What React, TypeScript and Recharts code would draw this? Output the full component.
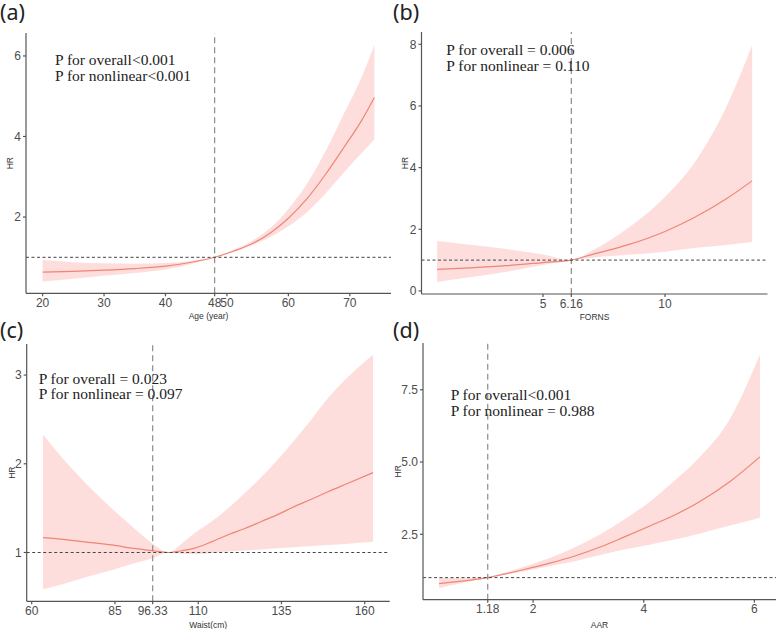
import React from "react";
import { ComposedChart, Area, Line, XAxis, YAxis, ReferenceLine } from "recharts";

// (a) Age
const ageX = [20, 25, 30, 35, 40, 44, 48, 51, 54, 57, 60, 63, 66, 69, 72, 74];
const ageHR = [0.63, 0.65, 0.68, 0.72, 0.78, 0.87, 1.0, 1.15, 1.33, 1.6, 1.97, 2.45, 3.05, 3.72, 4.42, 4.97];
const ageLow = [0.4, 0.47, 0.54, 0.61, 0.7, 0.82, 1.0, 1.13, 1.3, 1.5, 1.77, 2.12, 2.58, 3.1, 3.6, 3.93];
const ageHigh = [0.93, 0.88, 0.85, 0.84, 0.86, 0.91, 1.0, 1.18, 1.4, 1.72, 2.2, 2.82, 3.62, 4.55, 5.5, 6.27];

// (b) FORNS
const fornsX = [0.66, 2, 3.5, 5, 6.16, 7, 8.5, 10, 11.2, 12.5, 13.57];
const fornsHR = [0.7, 0.75, 0.82, 0.92, 1.0, 1.18, 1.5, 1.93, 2.38, 2.98, 3.57];
const fornsLow = [0.29, 0.44, 0.62, 0.84, 1.0, 1.08, 1.17, 1.27, 1.39, 1.49, 1.59];
const fornsHigh = [1.62, 1.5, 1.36, 1.18, 1.0, 1.3, 2.05, 3.05, 4.15, 5.95, 7.97];

// (c) Waist
const waistX = [63.4, 70, 77, 84, 90, 96.33, 101, 105, 109, 114, 119, 124, 129, 134, 139, 144, 149, 155, 162.5];
const waistHR = [1.167, 1.145, 1.115, 1.085, 1.05, 1.02, 1.0, 1.02, 1.05, 1.12, 1.2, 1.27, 1.35, 1.43, 1.52, 1.6, 1.685, 1.78, 1.9];
const waistLow = [0.585, 0.65, 0.73, 0.8, 0.87, 0.935, 1.0, 0.985, 0.98, 0.995, 1.01, 1.022, 1.035, 1.048, 1.06, 1.072, 1.085, 1.1, 1.12];
const waistHigh = [2.33, 2.03, 1.75, 1.5, 1.3, 1.1, 1.0, 1.1, 1.22, 1.35, 1.5, 1.67, 1.85, 2.05, 2.27, 2.5, 2.74, 2.98, 3.23];

// (d) AAR
const aarX = [0.3, 0.75, 1.18, 1.5, 1.84, 2.3, 2.74, 3.2, 3.64, 4.1, 4.54, 5.0, 5.56, 6.1];
const aarHR = [0.79, 0.89, 1.0, 1.13, 1.28, 1.5, 1.74, 2.05, 2.4, 2.78, 3.15, 3.62, 4.33, 5.18];
const aarLow = [0.64, 0.82, 1.0, 1.12, 1.22, 1.4, 1.56, 1.77, 1.97, 2.14, 2.31, 2.52, 2.8, 3.07];
const aarHigh = [0.99, 0.99, 1.0, 1.18, 1.38, 1.68, 2.03, 2.48, 3.0, 3.62, 4.33, 5.15, 6.5, 8.72];

const ageTicks = [20, 30, 40, 48, 50, 60, 70];
const fornsTicks = [5, 6.16, 10];
const waistTicks = [60, 85, 96.33, 110, 135, 160];
const aarTicks = [1.18, 2, 4, 6];

const buildRows = (xs: number[], hr: number[], lo: number[], hi: number[]) =>
  xs.map((x, i) => ({ x, hr: hr[i], band: [lo[i], hi[i]] }));

const AXIS = "#555555";
const TICK = { fill: "#4d4d4d", fontSize: 12, fontFamily: "Liberation Sans, Arial, sans-serif" };
const TITLE = { fill: "#333", fontSize: 8.5, fontFamily: "Liberation Sans, Arial, sans-serif" };

type Rect = { left: number; top: number; right: number; bottom: number };

const SplinePanel = (p: {
  rows: any[];
  plot: Rect;
  yw: number;
  xDomain: number[];
  yDomain: number[];
  xTicks: number[];
  yTicks: number[];
  refX: number;
  xTitle: string;
  xTitleOffset: number;
  hrOffset: number;
  yFmt?: (v: number) => string;
}) => {
  const mt = 4;
  const mr = 2;
  const xh = 30;
  const width = p.plot.right - p.plot.left + p.yw + mr;
  const height = p.plot.bottom - p.plot.top + mt + xh;
  return (
    <div style={{ position: "absolute", left: p.plot.left - p.yw, top: p.plot.top - mt }}>
      <ComposedChart
        width={width}
        height={height}
        data={p.rows}
        margin={{ top: mt, right: mr, bottom: 0, left: 0 }}
      >
        <XAxis
          type="number"
          dataKey="x"
          domain={p.xDomain}
          ticks={p.xTicks}
          interval={0}
          allowDataOverflow
          height={xh}
          stroke={AXIS}
          strokeWidth={1.2}
          tickSize={3}
          tick={TICK}
          label={{ value: p.xTitle, position: "insideBottom", offset: p.xTitleOffset, style: TITLE }}
        />
        <YAxis
          type="number"
          domain={p.yDomain}
          ticks={p.yTicks}
          interval={0}
          allowDataOverflow
          width={p.yw}
          stroke={AXIS}
          strokeWidth={1.2}
          tickSize={3}
          tick={TICK}
          tickFormatter={p.yFmt}
          label={{
            value: "HR",
            angle: -90,
            position: "insideLeft",
            offset: p.hrOffset,
            style: { ...TITLE, textAnchor: "middle" },
          }}
        />
        <Area
          type="monotone"
          dataKey="band"
          stroke="none"
          fill="#f8766d"
          fillOpacity={0.24}
          isAnimationActive={false}
        />
        <Line
          type="monotone"
          dataKey="hr"
          stroke="#ef8576"
          strokeWidth={1.2}
          dot={false}
          isAnimationActive={false}
        />
        <ReferenceLine x={p.refX} stroke="#8c8c8c" strokeWidth={1.2} strokeDasharray="6 4" />
        <ReferenceLine y={1} stroke="#444" strokeWidth={1} strokeDasharray="3 2.5" />
      </ComposedChart>
    </div>
  );
};

const Note = ({ x, y, lines }: { x: number; y: number; lines: string[] }) => (
  <div
    style={{
      position: "absolute",
      left: x,
      top: y,
      fontFamily: "Liberation Serif, Times New Roman, serif",
      fontSize: 15.5,
      lineHeight: "15.5px",
      color: "#222",
      whiteSpace: "pre",
    }}
  >
    {lines.join("\n")}
  </div>
);

const Tag = ({ x, y, text }: { x: number; y: number; text: string }) => (
  <div
    style={{
      position: "absolute",
      left: x,
      top: y,
      fontFamily: "Noto Sans, Open Sans, sans-serif",
      fontSize: 21.5,
      lineHeight: "24px",
      color: "#222",
    }}
  >
    {text}
  </div>
);

export default function App() {
  return (
    <div
      style={{
        position: "absolute",
        left: 0,
        top: 0,
        width: 778,
        height: 629,
        background: "#fff",
        overflow: "hidden",
      }}
    >
      <SplinePanel
        rows={buildRows(ageX, ageHR, ageLow, ageHigh)}
        plot={{ left: 26, top: 33.2, right: 391, bottom: 293.5 }}
        yw={26}
        xDomain={[17.3, 76.7]}
        yDomain={[0.106, 6.57]}
        xTicks={ageTicks}
        yTicks={[2, 4, 6]}
        refX={48}
        xTitle="Age (year)"
        xTitleOffset={4}
        hrOffset={10}
      />
      <SplinePanel
        rows={buildRows(fornsX, fornsHR, fornsLow, fornsHigh)}
        plot={{ left: 421.5, top: 32, right: 767.5, bottom: 294 }}
        yw={33.5}
        xDomain={[0.02, 14.2]}
        yDomain={[-0.1, 8.4]}
        xTicks={fornsTicks}
        yTicks={[0, 2, 4, 6, 8]}
        refX={6.16}
        xTitle="FORNS"
        xTitleOffset={4.5}
        hrOffset={16.5}
      />
      <SplinePanel
        rows={buildRows(waistX, waistHR, waistLow, waistHigh)}
        plot={{ left: 26.7, top: 344, right: 389.7, bottom: 601.3 }}
        yw={26.7}
        xDomain={[58.5, 167.5]}
        yDomain={[0.45, 3.35]}
        xTicks={waistTicks}
        yTicks={[1, 2, 3]}
        refX={96.33}
        xTitle="Waist(cm)"
        xTitleOffset={2.8}
        hrOffset={11.5}
      />
      <SplinePanel
        rows={buildRows(aarX, aarHR, aarLow, aarHigh)}
        plot={{ left: 423, top: 343.3, right: 776, bottom: 600 }}
        yw={35}
        xDomain={[0.01, 6.39]}
        yDomain={[0.236, 9.12]}
        xTicks={aarTicks}
        yTicks={[2.5, 5, 7.5]}
        refX={1.18}
        xTitle="AAR"
        xTitleOffset={1.5}
        hrOffset={10}
        yFmt={(v: number) => v.toFixed(1)}
      />
      <Note x={55} y={52.3} lines={["P for overall<0.001", "P for nonlinear<0.001"]} />
      <Note x={446.3} y={42.3} lines={["P for overall = 0.006", "P for nonlinear = 0.110"]} />
      <Note x={38.7} y={370.6} lines={["P for overall = 0.023", "P for nonlinear = 0.097"]} />
      <Note x={450.7} y={387.3} lines={["P for overall<0.001", "P for nonlinear = 0.988"]} />
      <Tag x={0} y={0} text="(a)" />
      <Tag x={393} y={0} text="(b)" />
      <Tag x={0} y={318} text="(c)" />
      <Tag x={393} y={318} text="(d)" />
    </div>
  );
}
